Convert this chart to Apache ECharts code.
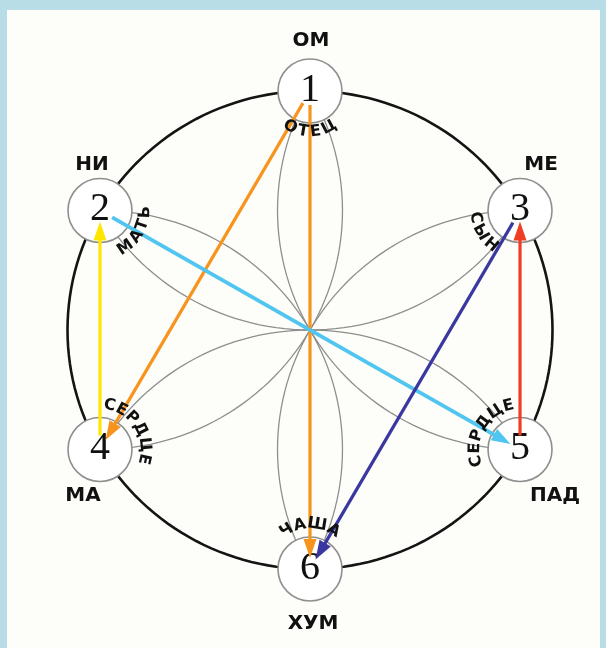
<!DOCTYPE html>
<html><head><meta charset="utf-8">
<script src="https://cdn.jsdelivr.net/npm/echarts@6/dist/echarts.min.js"></script>
<style>html,body{margin:0;padding:0;background:#b9dde6;} #c{width:606px;height:648px;}</style>
</head><body><div id="c"></div>
<script>
// ---- data ----
const nodeNumbers = ['1','2','3','4','5','6'];
const nodeAngles = [90, 150, 30, 210, 330, 270];          // position on the circle (degrees)
const nodeNames = ['ОМ','НИ','МЕ','МА','ПАД','ХУМ'];
const roleLabels = ['ОТЕЦ','МАТЬ','СЫН','СЕРДЦЕ','СЕРДЦЕ','ЧАША'];
const arrowFrom = [1, 1, 4, 2, 5, 3];
const arrowTo   = [4, 6, 2, 5, 3, 6];

// ---- style ----
const arrowColors = ['#f7941d','#f7941d','#ffe600','#4fc5ef','#ef3e24','#3a38a0'];
const arrowWidths = [3.2, 3.2, 3.2, 3.8, 3.2, 3.2];
const nameOffsets = [[1,-50],[-8,-46],[21,-46],[-17,46],[35,46],[3,55]];
const roleLayout = [
  {a:90,  r:41, out:false}, {a:30,  r:45, out:false}, {a:150, r:45, out:false},
  {a:327, r:45, out:true},  {a:210, r:45, out:true},  {a:270, r:45, out:true}
];
const NODE_R = 32;
const RAD = Math.PI / 180;
const nodePos = nodeAngles.map(a => [Math.cos(a*RAD), Math.sin(a*RAD)]);

const ROLE_SIZE = 16;
const mctx = document.createElement('canvas').getContext('2d');
mctx.font = 'bold ' + ROLE_SIZE + 'px "DejaVu Sans"';

const chart = echarts.init(document.getElementById('c'));

function circlePts(api, cx, cy, a0, a1, step) {
  const pts = [];
  const n = Math.max(2, Math.ceil(Math.abs(a1 - a0) / step));
  for (let i = 0; i <= n; i++) {
    const a = (a0 + (a1 - a0) * i / n) * RAD;
    pts.push(api.coord([cx + Math.cos(a), cy + Math.sin(a)]));
  }
  return pts;
}

const option = {
  backgroundColor: '#b9dde6',
  animation: false,
  grid: {left: 67.5, top: 91, width: 485, height: 478},
  xAxis: {type: 'value', min: -1, max: 1, show: false},
  yAxis: {type: 'value', min: -1, max: 1, show: false},
  graphic: [{type: 'rect', z: -10, shape: {x: 7, y: 10, width: 593, height: 640}, style: {fill: '#fdfdfa'}}],
  series: [
    { // outer circle
      type: 'custom', clip: false, z: 1, silent: true,
      data: [[0, 0]],
      renderItem: (params, api) => ({
        type: 'polyline',
        shape: {points: circlePts(api, 0, 0, 0, 360, 2)},
        style: {stroke: '#141414', lineWidth: 2.6, fill: null}
      })
    },
    { // petals
      type: 'custom', clip: false, z: 2, silent: true,
      data: nodeAngles.map((a, i) => [nodePos[i][0], nodePos[i][1], a]),
      renderItem: (params, api) => {
        const t = api.value(2);
        const c1 = [Math.cos((t+60)*RAD), Math.sin((t+60)*RAD)];
        const c2 = [Math.cos((t-60)*RAD), Math.sin((t-60)*RAD)];
        const st = {stroke: '#8e8e8e', lineWidth: 1.3, fill: null};
        return {type: 'group', children: [
          {type: 'polyline', shape: {points: circlePts(api, c1[0], c1[1], t-120, t-60, 2)}, style: st},
          {type: 'polyline', shape: {points: circlePts(api, c2[0], c2[1], t+60, t+120, 2)}, style: st}
        ]};
      }
    },
    { // node circles + numbers
      type: 'custom', clip: false, z: 3, silent: true,
      data: nodePos.map((p, i) => [p[0], p[1], i]),
      renderItem: (params, api) => {
        const c = api.coord([api.value(0), api.value(1)]);
        const i = api.value(2);
        return {type: 'group', children: [
          {type: 'circle', shape: {cx: c[0], cy: c[1], r: NODE_R}, style: {fill: '#ffffff', stroke: '#8f8f8f', lineWidth: 1.6}},
          {type: 'text', x: c[0], y: c[1] - 1, style: {text: nodeNumbers[i], fill: '#111', fontSize: 40, fontFamily: 'Liberation Serif', align: 'center', verticalAlign: 'middle', textAlign: 'center', textVerticalAlign: 'middle'}}
        ]};
      }
    },
    { // arrows
      type: 'custom', clip: false, z: 4, silent: true,
      data: arrowFrom.map((f, i) => [nodePos[f-1][0], nodePos[f-1][1], nodePos[arrowTo[i]-1][0], nodePos[arrowTo[i]-1][1], i]),
      renderItem: (params, api) => {
        const p0 = api.coord([api.value(0), api.value(1)]);
        const p1 = api.coord([api.value(2), api.value(3)]);
        const i = api.value(4);
        const dx = p1[0]-p0[0], dy = p1[1]-p0[1];
        const L = Math.hypot(dx, dy), ux = dx/L, uy = dy/L;
        const s = [p0[0] + ux*14, p0[1] + uy*14];
        const e = [p1[0] - ux*11, p1[1] - uy*11];
        const hl = 19, hw = 6.5;
        const b = [e[0] - ux*hl, e[1] - uy*hl];
        const col = arrowColors[i];
        return {type: 'group', children: [
          {type: 'line', shape: {x1: s[0], y1: s[1], x2: b[0] + ux*2, y2: b[1] + uy*2}, style: {stroke: col, lineWidth: arrowWidths[i]}},
          {type: 'polygon', shape: {points: [e, [b[0] - uy*hw, b[1] + ux*hw], [b[0] + uy*hw, b[1] - ux*hw]]}, style: {fill: col}}
        ]};
      }
    },
    { // names and role labels
      type: 'custom', clip: false, z: 5, silent: true,
      data: nodePos.map((p, i) => [p[0], p[1], i]),
      renderItem: (params, api) => {
        const c = api.coord([api.value(0), api.value(1)]);
        const i = api.value(2);
        const kids = [{
          type: 'text', x: c[0] + nameOffsets[i][0], y: c[1] + nameOffsets[i][1],
          style: {text: nodeNames[i], fill: '#111', fontSize: 20, fontWeight: 'bold', fontFamily: 'DejaVu Sans', align: 'center', verticalAlign: 'middle', textAlign: 'center', textVerticalAlign: 'middle'}
        }];
        const txt = roleLabels[i], lay = roleLayout[i];
        const letters = Array.from(txt);
        const ws = letters.map(ch => mctx.measureText(ch).width);
        const sp = 1.5;
        const total = ws.reduce((a, b) => a + b, 0) + sp*(letters.length-1);
        let acc = 0;
        letters.forEach((ch, k) => {
          const sMid = acc + ws[k]/2;
          acc += ws[k] + sp;
          const off = (sMid - total/2) / lay.r / RAD;
          const a = lay.out ? lay.a + off : lay.a - off;
          const rot = lay.out ? -(a + 90) * RAD : (90 - a) * RAD;
          kids.push({
            type: 'text',
            x: c[0] + lay.r * Math.cos(a*RAD), y: c[1] + lay.r * Math.sin(a*RAD),
            rotation: rot,
            style: {text: ch, fill: '#111', fontSize: ROLE_SIZE, fontWeight: 'bold', fontFamily: 'DejaVu Sans', align: 'center', verticalAlign: 'middle', textAlign: 'center', textVerticalAlign: 'middle'}
          });
        });
        return {type: 'group', children: kids};
      }
    }
  ]
};
chart.setOption(option);
</script></body></html>
